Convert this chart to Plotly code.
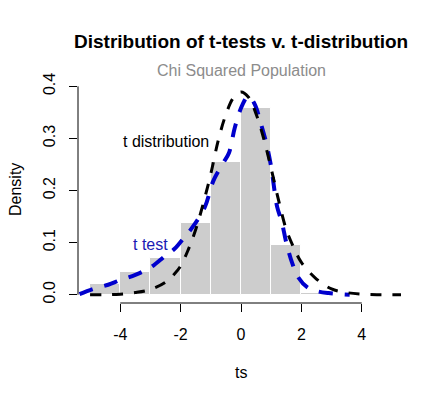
import plotly.graph_objects as go

# ---- data ----
bin_edges = [-5, -4, -3, -2, -1, 0, 1, 2, 3]
bin_density = [0.020, 0.043, 0.071, 0.137, 0.255, 0.358, 0.095, 0.003]

t_dist_x = [-5.0, -4.5, -4.0, -3.5, -3.0, -2.5, -2.2, -2.0, -1.75, -1.5, -1.25, -1.0,
            -0.75, -0.5, -0.25, 0.0, 0.25, 0.5, 0.75, 1.0, 1.25, 1.5, 1.75, 2.0,
            2.5, 3.0, 3.5, 4.0, 4.5, 5.0, 5.3]
t_dist_y = [0.000, 0.000, 0.001, 0.004, 0.010, 0.024, 0.040, 0.055, 0.086, 0.125, 0.175, 0.232,
            0.297, 0.346, 0.378, 0.389, 0.379, 0.347, 0.300, 0.242, 0.180, 0.125, 0.090, 0.062,
            0.030, 0.011, 0.004, 0.001, 0.000, 0.000, 0.000]

t_test_x = [-5.35, -4.9, -4.4, -4.0, -3.5, -3.0, -2.5, -2.2, -1.85, -1.6, -1.2, -0.92,
            -0.6, -0.4, -0.2, 0.05, 0.24, 0.45, 0.65, 0.85, 1.0, 1.2, 1.35, 1.5,
            1.7, 1.9, 2.2, 2.5, 2.9, 3.3, 3.6]
t_test_y = [0.001, 0.011, 0.019, 0.028, 0.038, 0.052, 0.075, 0.088, 0.112, 0.130, 0.168, 0.218,
            0.252, 0.272, 0.322, 0.365, 0.381, 0.366, 0.330, 0.288, 0.245, 0.168, 0.140, 0.100,
            0.060, 0.033, 0.014, 0.007, 0.003, 0.001, 0.000]

x_ticks = [-4, -2, 0, 2, 4]
x_tick_labels = ["-4", "-2", "0", "2", "4"]
y_ticks = [0.0, 0.1, 0.2, 0.3, 0.4]
y_tick_labels = ["0.0", "0.1", "0.2", "0.3", "0.4"]

title_text = "Distribution of t-tests v. t-distribution"
subtitle_text = "Chi Squared Population"
label_tdist = ("t distribution", -2.5, 0.295)
label_ttest = ("t test", -3.0, 0.097)

# ---- figure ----
OFF = 8  # default page body margin
W, H = 445 - OFF, 401 - OFF
ML, MR, MT, MB = 78 - OFF, 41, 78 - OFF, 98
plot_w = W - ML - MR
plot_h = H - MT - MB


def py(px):  # screen pixel y -> paper y
    return (H - MB + OFF - px) / plot_h


def pxx(px):  # screen pixel x -> paper x
    return (px - ML - OFF) / plot_w


FONT = "Liberation Sans, Arial, sans-serif"

centers = [(a + b) / 2 for a, b in zip(bin_edges[:-1], bin_edges[1:])]
widths = [b - a for a, b in zip(bin_edges[:-1], bin_edges[1:])]

fig = go.Figure()
fig.add_trace(go.Bar(x=centers, y=bin_density, width=widths,
                     marker=dict(color="#CDCDCD", line=dict(color="white", width=1)),
                     showlegend=False, hoverinfo="skip"))
fig.add_trace(go.Scatter(x=t_test_x, y=t_test_y, mode="lines",
                         line=dict(color="#0000CD", width=4, dash="14px,12px", shape="spline",
                                   smoothing=1.0),
                         showlegend=False))
fig.add_trace(go.Scatter(x=t_dist_x, y=t_dist_y, mode="lines",
                         line=dict(color="black", width=3, dash="11px,11px", shape="spline",
                                   smoothing=1.0),
                         showlegend=False))

# R-style axis lines spanning only the tick range
fig.add_shape(type="line", xref="x", yref="paper", x0=x_ticks[0], x1=x_ticks[-1],
              y0=0, y1=0, line=dict(color="black", width=1))
fig.add_shape(type="line", xref="paper", yref="y", x0=0, x1=0,
              y0=y_ticks[0], y1=y_ticks[-1], line=dict(color="black", width=1))

fig.add_annotation(text=f"<b>{title_text}</b>", xref="paper", yref="paper",
                   x=pxx(241), y=py(41), showarrow=False, xanchor="center", yanchor="middle",
                   font=dict(family=FONT, size=19, color="black"))
fig.add_annotation(text=subtitle_text, xref="paper", yref="paper",
                   x=pxx(241), y=py(70), showarrow=False, xanchor="center", yanchor="middle",
                   font=dict(family=FONT, size=16, color="#8C8C8C"))
fig.add_annotation(text="Density", xref="paper", yref="paper", x=pxx(15), y=py(190),
                   textangle=-90, showarrow=False, xanchor="center", yanchor="middle",
                   font=dict(family=FONT, size=16, color="black"))
fig.add_annotation(text="ts", xref="paper", yref="paper", x=pxx(241), y=py(372),
                   showarrow=False, xanchor="center", yanchor="middle",
                   font=dict(family=FONT, size=16, color="black"))
fig.add_annotation(text=label_tdist[0], x=label_tdist[1], y=label_tdist[2], xref="x", yref="y",
                   showarrow=False, font=dict(family=FONT, size=16, color="black"))
fig.add_annotation(text=label_ttest[0], x=label_ttest[1], y=label_ttest[2], xref="x", yref="y",
                   showarrow=False, font=dict(family=FONT, size=16, color="#1A1AB4"))

fig.update_layout(
    width=W, height=H,
    margin=dict(l=ML, r=MR, t=MT, b=MB, pad=0),
    plot_bgcolor="white", paper_bgcolor="white",
    bargap=0,
    font=dict(family=FONT, size=16, color="black"),
    xaxis=dict(range=[-5.4, 5.4], tickvals=x_ticks, ticktext=x_tick_labels,
               ticks="outside", ticklen=8,
               tickcolor="black", showline=False, showgrid=False, zeroline=False,
               ticklabelstandoff=9, tickfont=dict(family=FONT, size=16)),
    yaxis=dict(range=[-0.016, 0.416], tickvals=y_ticks, ticktext=y_tick_labels,
               ticks="outside", ticklen=8, tickcolor="black", tickangle=-90,
               showline=False, showgrid=False, zeroline=False,
               ticklabelstandoff=8, tickfont=dict(family=FONT, size=16)),
)

fig.write_html("out.html")
